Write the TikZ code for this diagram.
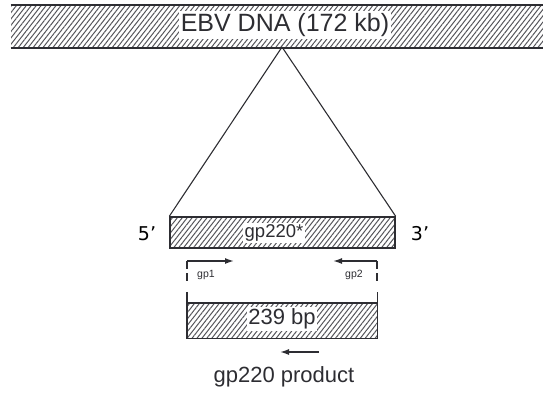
\documentclass[tikz,border=0pt]{standalone}
\usepackage{fontspec}
\setmainfont{Liberation Sans}
\newfontfamily\primefont{DejaVu Sans}
\usetikzlibrary{patterns.meta,arrows.meta}
\definecolor{ink}{RGB}{45,45,50}
\definecolor{hatch}{RGB}{85,85,90}
\tikzset{
  hatched/.style={pattern={Lines[angle=52,distance=3.9pt,line width=1pt]},pattern color=hatch},
  barbox/.style={hatched,rectangle,inner sep=0pt},
  lbl/.style={fill=white,inner sep=1.5pt,text=ink},
  conn/.style={draw=ink,line width=1.1pt},
  primer/.style={draw=ink,line width=1.5pt,-{Latex[length=9pt,width=6pt]}},
}
\begin{document}
\begin{tikzpicture}[x=1pt,y=-1pt]
\useasboundingbox (0,0) rectangle (543,394);
% top bar
\node[barbox,minimum width=532pt,minimum height=42pt] (ebv) at (277,26) {};
\draw[ink,line width=2pt] (ebv.north west) -- (ebv.north east);
\draw[ink,line width=2pt] (ebv.south west) -- (ebv.south east);
\node[lbl,font=\fontsize{25}{27}\selectfont,inner xsep=2pt,inner ysep=2pt] (ebvlbl) at (285,25) {EBV DNA (172 kb)};
% apex
\coordinate (apex) at (282,47);
% middle bar
\node[barbox,draw=ink,line width=1.4pt,minimum width=225pt,minimum height=31pt] (gene) at (282.5,232.5) {};
\node[lbl,font=\fontsize{18.5}{20}\selectfont] (genelbl) at (274,233) {gp220*};
\draw[conn] (apex) -- (gene.north west);
\draw[conn] (apex) -- (gene.north east);
\node[font=\primefont\fontsize{19}{21}\selectfont,inner sep=0pt] (five) at (147,234) {5’};
\node[font=\primefont\fontsize{19}{21}\selectfont,inner sep=0pt] (three) at (420,234) {3’};
% primers
\coordinate (p1top) at (187,261);
\coordinate (p1tip) at (234,261);
\coordinate (p2top) at (377,261);
\coordinate (p2tip) at (333,261);
\draw[primer] (p1top) -- (p1tip);
\draw[primer] (p2top) -- (p2tip);
\draw[ink,line width=1.4pt,dash pattern=on 8pt off 4pt] (p1top) -- ++(0,20);
\draw[ink,line width=1.4pt,dash pattern=on 8pt off 4pt] (p2top) -- ++(0,20);
\node[font=\fontsize{10.5}{12}\selectfont,text=ink] (gp1) at (206,275) {gp1};
\node[font=\fontsize{10.5}{12}\selectfont,text=ink] (gp2) at (354,275) {gp2};
% product bar
\node[barbox,minimum width=190pt,minimum height=35pt] (prod) at (282,320.5) {};
\draw[ink,line width=1.4pt] ([yshift=11pt]prod.north west) -- (prod.south west) -- (prod.south east) -- ([yshift=11pt]prod.north east);
\draw[ink,line width=1.4pt] (prod.north west) -- (prod.north east);
\node[lbl,font=\fontsize{22}{24}\selectfont] (prodlbl) at (282,319) {239 bp};
\coordinate (rtail) at (319,352);
\coordinate (rtip) at (280,352);
\draw[primer] (rtail) -- (rtip);
\node[font=\fontsize{22}{24}\selectfont,text=ink] (prodname) at (284,377) {gp220 product};
\end{tikzpicture}
\end{document}
